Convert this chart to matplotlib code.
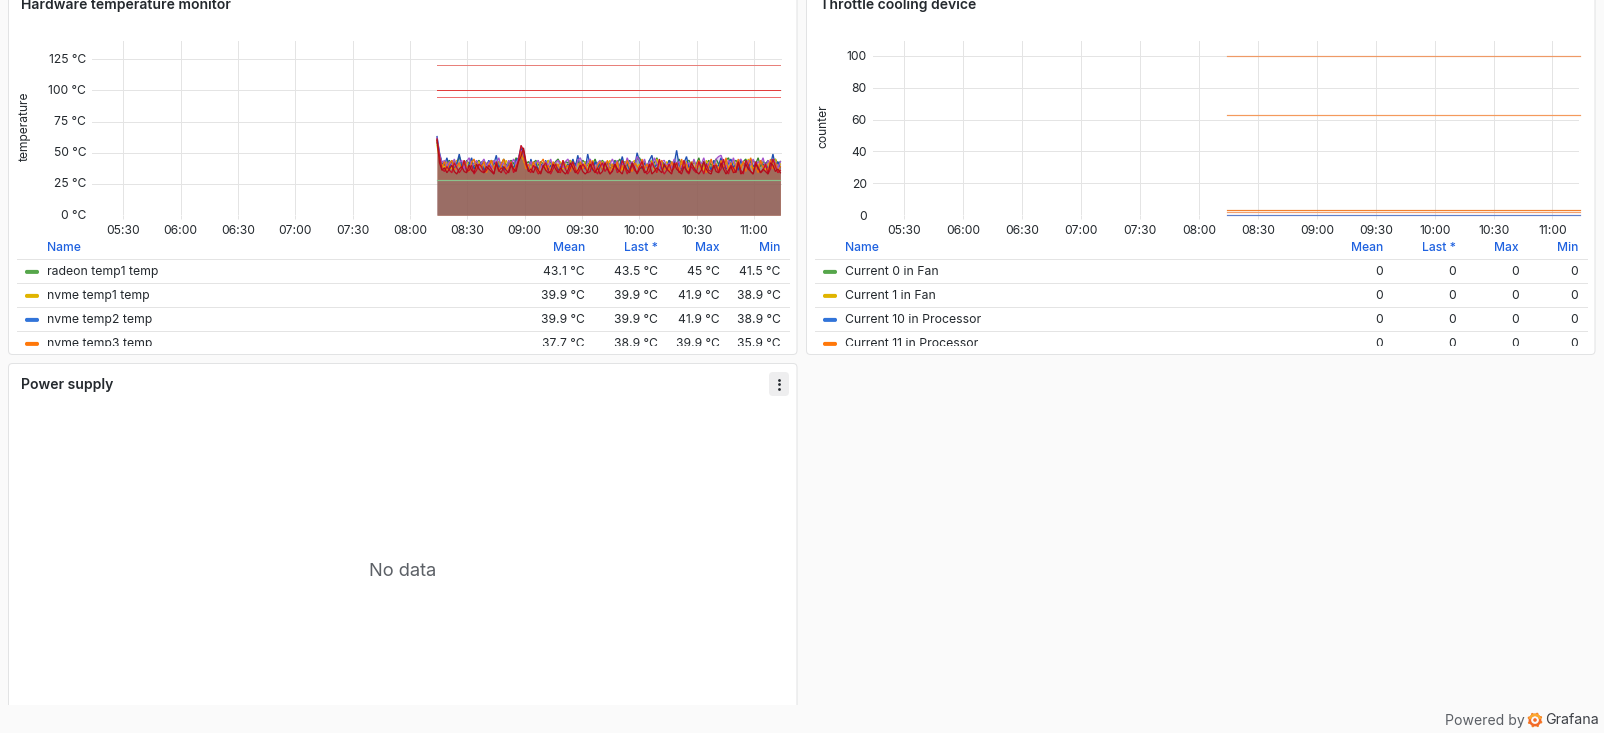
import numpy as np
import matplotlib
matplotlib.use("Agg")
import matplotlib.pyplot as plt
from matplotlib.patches import FancyBboxPatch, Rectangle, Circle, Wedge
from matplotlib.transforms import ScaledTranslation

plt.rcParams['font.family'] = ['Inter', 'DejaVu Sans']

W, H = 1604, 733

# time axis, minutes since midnight
t_start, t_end = 494.2, 673.8
tick_minutes = [330, 360, 390, 420, 450, 480, 510, 540, 570, 600, 630, 660]
tick_labels = ["05:30", "06:00", "06:30", "07:00", "07:30", "08:00",
               "08:30", "09:00", "09:30", "10:00", "10:30", "11:00"]

temp_ticks = [0, 25, 50, 75, 100, 125]
temp_labels = ["0 °C", "25 °C", "50 °C", "75 °C", "100 °C", "125 °C"]
counter_ticks = [0, 20, 40, 60, 80, 100]

# sensor readings in °C
temp_blue = [63, 50, 42, 40, 46, 38, 44, 37, 41, 49, 39, 43, 36, 41, 46, 37, 40, 38, 43, 36,
             40, 44, 38, 41, 48, 37, 42, 36, 39, 40, 43, 37, 44, 46, 54, 47, 39, 36, 45, 38,
             42, 36, 41, 39, 44, 36, 40, 38, 41, 36, 39, 43, 37, 41, 36, 45, 39, 48, 38, 41,
             37, 49, 40, 36, 43, 38, 41, 36, 39, 42, 37, 40, 43, 36, 40, 47, 38, 41, 36, 42,
             39, 50, 43, 37, 42, 38, 44, 48, 38, 41, 36, 43, 39, 37, 44, 38, 41, 52, 40, 36,
             42, 47, 38, 41, 36, 40, 43, 37, 42, 39, 41, 36, 44, 38, 40, 46, 39, 37, 42, 45,
             38, 41, 36, 44, 40, 42, 37, 45, 39, 41, 36, 43, 40, 42, 37, 40, 49, 39, 43, 38]
temp_purple = [62, 49, 42, 44, 39, 43, 40, 45, 38, 42, 44, 37, 43, 46, 39, 41, 44, 38, 42, 45,
               39, 43, 37, 44, 41, 46, 39, 42, 38, 44, 41, 45, 40, 46, 52, 50, 42, 39, 43, 38,
               42, 44, 38, 41, 43, 39, 45, 37, 42, 44, 40, 38, 43, 45, 39, 42, 37, 44, 46, 41,
               38, 43, 45, 40, 37, 42, 44, 39, 43, 38, 41, 45, 40, 44, 37, 42, 39, 46, 41, 43,
               38, 47, 44, 40, 45, 38, 43, 39, 46, 41, 37, 43, 44, 39, 42, 38, 45, 41, 43, 38,
               44, 40, 42, 37, 45, 39, 43, 41, 46, 38, 42, 44, 39, 45, 47, 48, 42, 38, 44, 40,
               46, 39, 43, 45, 41, 37, 44, 40, 45, 39, 43, 41, 46, 38, 44, 40, 45, 42, 38, 43]
temp_green = [58, 47, 43, 41, 42, 44, 40, 43, 41, 47, 42, 40, 44, 41, 43, 39, 42, 44, 40, 43,
              41, 39, 44, 42, 40, 43, 41, 45, 40, 42, 44, 41, 46, 43, 50, 46, 41, 43, 40, 42,
              44, 40, 43, 41, 39, 44, 42, 40, 43, 45, 41, 39, 43, 42, 44, 40, 41, 43, 39, 44,
              42, 40, 43, 41, 45, 39, 42, 44, 40, 43, 41, 39, 44, 42, 45, 40, 43, 41, 44, 39,
              42, 45, 46, 41, 43, 39, 44, 41, 42, 46, 40, 43, 41, 39, 44, 42, 43, 40, 45, 41,
              39, 43, 44, 40, 42, 41, 46, 39, 43, 41, 44, 40, 42, 45, 41, 43, 39, 44, 46, 40,
              42, 44, 41, 39, 43, 45, 40, 42, 44, 41, 46, 39, 43, 41, 44, 40, 42, 45, 41, 43]
temp_yellow = [56, 45, 41, 38, 43, 40, 37, 42, 44, 39, 41, 38, 43, 40, 44, 37, 41, 43, 39, 36,
               42, 40, 44, 38, 41, 43, 37, 40, 44, 39, 42, 38, 41, 44, 48, 44, 39, 36, 42, 40,
               37, 43, 39, 41, 38, 44, 40, 36, 42, 39, 43, 37, 41, 38, 44, 40, 36, 42, 39, 38,
               43, 41, 37, 44, 39, 36, 41, 43, 38, 40, 44, 37, 42, 39, 41, 36, 43, 40, 38, 42,
               44, 39, 41, 37, 43, 38, 40, 44, 36, 45, 39, 41, 37, 43, 40, 38, 44, 39, 36, 42,
               40, 43, 37, 41, 44, 38, 39, 42, 36, 44, 40, 38, 43, 41, 37, 44, 39, 42, 38, 40,
               44, 37, 41, 39, 43, 38, 45, 40, 37, 42, 39, 44, 41, 36, 43, 38, 42, 45, 39, 41]
temp_orange = [60, 46, 38, 43, 36, 41, 44, 36, 39, 42, 37, 44, 39, 35, 42, 45, 36, 41, 38, 43,
               34, 40, 44, 37, 42, 35, 41, 45, 36, 39, 43, 35, 40, 42, 51, 45, 37, 41, 35, 43,
               38, 34, 42, 45, 36, 40, 35, 43, 38, 41, 34, 44, 37, 40, 35, 42, 38, 34, 43, 37,
               41, 35, 44, 38, 34, 40, 43, 36, 39, 44, 35, 41, 37, 43, 34, 40, 36, 44, 38, 35,
               42, 39, 36, 45, 37, 41, 35, 43, 38, 34, 41, 44, 36, 40, 35, 43, 37, 42, 34, 45,
               38, 41, 35, 43, 37, 40, 44, 36, 42, 34, 39, 45, 37, 41, 35, 44, 38, 46, 36, 42,
               34, 40, 45, 37, 43, 35, 41, 46, 36, 39, 34, 44, 38, 41, 35, 45, 37, 42, 34, 39]
temp_red = [60, 47, 37, 35, 39, 36, 34, 42, 38, 34, 37, 44, 35, 36, 40, 33, 36, 41, 39, 34,
            36, 40, 37, 33, 43, 35, 38, 36, 33, 36, 42, 34, 38, 44, 56, 52, 41, 36, 34, 40,
            37, 33, 35, 39, 42, 36, 33, 37, 41, 35, 34, 44, 37, 33, 38, 43, 36, 33, 37, 41,
            38, 34, 35, 43, 36, 33, 39, 42, 35, 38, 33, 36, 41, 34, 36, 44, 39, 33, 37, 40,
            36, 34, 39, 43, 36, 33, 35, 42, 38, 34, 45, 37, 33, 36, 41, 35, 38, 42, 34, 36,
            44, 35, 33, 39, 36, 34, 43, 38, 33, 41, 36, 35, 39, 40, 34, 37, 45, 36, 33, 40,
            38, 34, 42, 36, 33, 44, 40, 35, 33, 43, 38, 34, 36, 41, 33, 37, 45, 39, 34, 36]
temp_dark = [61, 42, 36, 38, 34, 37, 40, 35, 33, 37, 39, 35, 34, 40, 36, 34, 41, 37, 35, 34,
             39, 37, 35, 33, 41, 36, 34, 39, 36, 34, 40, 37, 35, 43, 47, 54, 43, 35, 37, 34,
             39, 36, 33, 40, 36, 34, 35, 41, 37, 34, 38, 35, 33, 36, 42, 38, 34, 36, 40, 35,
             33, 35, 41, 37, 34, 38, 33, 35, 42, 37, 33, 35, 41, 37, 35, 33, 40, 36, 34, 42,
             38, 33, 37, 39, 34, 35, 41, 33, 35, 38, 36, 34, 41, 37, 35, 33, 42, 37, 35, 33,
             39, 36, 34, 42, 38, 35, 33, 36, 43, 37, 34, 33, 40, 35, 34, 42, 37, 33, 36, 39,
             34, 35, 43, 33, 35, 41, 37, 35, 33, 41, 38, 34, 37, 35, 33, 42, 40, 35, 37, 34]
temp_radeon_floor = [28.2, 28.2]
temp_limits = [120, 100, 95]

# cooling device levels
counter_levels = [100, 63, 3, 1.6, 0]

panel_names_left = ["radeon temp1 temp", "nvme temp1 temp", "nvme temp2 temp", "nvme temp3 temp"]
panel_names_right = ["Current 0 in Fan", "Current 1 in Fan", "Current 10 in Processor", "Current 11 in Processor"]
swatch_colors = ["#56A64B", "#E0B400", "#3274D9", "#FF780A"]
mean_vals = ["43.1 °C", "39.9 °C", "39.9 °C", "37.7 °C"]
last_vals = ["43.5 °C", "39.9 °C", "39.9 °C", "38.9 °C"]
max_vals = ["45 °C", "41.9 °C", "41.9 °C", "39.9 °C"]
min_vals = ["41.5 °C", "38.9 °C", "38.9 °C", "35.9 °C"]
zero_vals = ["0", "0", "0", "0"]
stat_headers = ["Mean", "Last *", "Max", "Min"]

TEXT = "#24292e"
BLUE = "#1f62e0"
GRID = "#e4e4e4"
BORDER = "#e2e3e4"
PAGE = "#fafafa"
LW = 0.72


def px_axes(fig, x0, y0, x1, y1, **kw):
    # axes placed by pixel edges, y measured from the top
    return fig.add_axes([x0 / W, 1 - y1 / H, (x1 - x0) / W, (y1 - y0) / H], **kw)


def style_time_axes(ax, xlim, ymax, yticks, ylabels, lift_px=0):
    ax.set_xlim(*xlim)
    ax.set_ylim(0, ymax)
    ax.set_xticks(tick_minutes, tick_labels)
    ax.set_yticks(yticks, ylabels)
    ax.patch.set_alpha(0)
    for s in ax.spines.values():
        s.set_visible(False)
    ax.grid(True, color=GRID, lw=LW)
    ax.set_axisbelow(True)
    ax.tick_params(axis='x', length=3, width=LW, color=GRID, labelsize=8.7, labelcolor=TEXT, pad=4.2)
    ax.tick_params(axis='y', length=0, labelsize=8.7, labelcolor=TEXT, pad=4.2)
    lift = ScaledTranslation(0, lift_px / 100, fig.dpi_scale_trans)
    for lab in ax.get_yticklabels():
        lab.set_transform(lab.get_transform() + lift)


fig = plt.figure(figsize=(W / 100, H / 100), dpi=100, facecolor=PAGE)
bg = fig.add_axes([0, 0, 1, 1])
bg.set_xlim(0, W)
bg.set_ylim(H, 0)
bg.axis('off')


def panel(x0, y0, x1, y1):
    bg.add_patch(FancyBboxPatch((x0, y0), x1 - x0, y1 - y0, boxstyle="round,pad=0,rounding_size=4",
                                fc="white", ec=BORDER, lw=LW))


panel(8.5, -20, 797, 354.5)
panel(806.5, -20, 1595, 354.5)
panel(8.5, 363.5, 797, 740)
# footer strip covers the lower panel
bg.add_patch(Rectangle((0, 705), W, 28, fc=PAGE, ec="none", zorder=3))

bg.text(21, 5.2, "Hardware temperature monitor", fontsize=10.05, fontweight=600, color=TEXT, va='center')
bg.text(819.5, 5.2, "Throttle cooling device", fontsize=10.05, fontweight=600, color=TEXT, va='center')
bg.text(21, 385.2, "Power supply", fontsize=10.05, fontweight=600, color=TEXT, va='center')
bg.text(24.5, 126, "temperature", fontsize=8.7, color=TEXT, rotation=90, ha='center', va='center')
bg.text(823, 126.5, "counter", fontsize=8.7, color=TEXT, rotation=90, ha='center', va='center')
bg.text(403, 571.5, "No data", fontsize=13.2, color="#5c6066", ha='center', va='center')

# panel menu button
bg.add_patch(FancyBboxPatch((769, 372), 20, 24, boxstyle="round,pad=0,rounding_size=4", fc="#eeeeef", ec="none"))
bg.plot([779, 779, 779], [379.5, 384, 388.5], 'o', ms=2.0, color=TEXT, mec='none')

# footer
bg.text(1445, 720.5, "Powered by", fontsize=10.1, color="#5c6066", va='center', zorder=4)
bg.text(1545, 720.5, "Grafana", fontsize=10.3, color="#3d4046", va='center', zorder=4)
logo_x, logo_y = 1535, 720
for ang in range(0, 360, 45):
    a = np.radians(ang + 20)
    bg.add_patch(Circle((logo_x + 6.4 * np.cos(a), logo_y + 6.4 * np.sin(a)), 1.3,
                        fc="#f6842a", ec="none", zorder=4))
bg.add_patch(Wedge((logo_x, logo_y), 6.4, 0, 360, width=2.5, fc="#f26a2a", ec="none", zorder=4))
bg.add_patch(Wedge((logo_x, logo_y), 6.4, 190, 350, width=2.5, fc="#fba92f", ec="none", zorder=4))
bg.add_patch(Circle((logo_x, logo_y), 1.8, fc="#f26a2a", ec="none", zorder=4))


def legend_table(x_line0, x_line1, x_swatch, x_name, stat_x, names, stats):
    clip = Rectangle((x_line0, 230), x_line1 - x_line0, 115.5, transform=bg.transData)
    bg.text(x_name, 248.3, "Name", fontsize=8.7, fontweight=500, color=BLUE, va='center')
    for xr, head in zip(stat_x, stat_headers):
        bg.text(xr, 248.3, head, fontsize=8.7, fontweight=500, color=BLUE, va='center', ha='right')
    for yl in [259, 283, 307, 331]:
        bg.plot([x_line0, x_line1], [yl, yl], color=GRID, lw=LW)
    for i, name in enumerate(names):
        yc = 271.9 + 24 * i
        swatch = FancyBboxPatch((x_swatch, yc - 2), 14, 4, boxstyle="round,pad=0,rounding_size=1.8",
                                fc=swatch_colors[i], ec="none")
        bg.add_patch(swatch)
        t = bg.text(x_name, yc, name, fontsize=8.8, color=TEXT, va='center', clip_on=True)
        t.set_clip_path(clip)
        for xr, col in zip(stat_x, stats):
            t = bg.text(xr, yc, col[i], fontsize=8.7, color=TEXT, va='center', ha='right', clip_on=True)
            t.set_clip_path(clip)


legend_table(17, 789, 25, 47, [585, 657.5, 720, 780.5], panel_names_left,
             [mean_vals, last_vals, max_vals, min_vals])
legend_table(815, 1587, 823, 845, [1383, 1456, 1519, 1578], panel_names_right,
             [zero_vals, zero_vals, zero_vals, zero_vals])

# temperature panel
ax1 = px_axes(fig, 92, 40.7, 781.5, 215.2)
style_time_axes(ax1, (313.7, 674.4), 139.8, temp_ticks, temp_labels, lift_px=1)

fills = [(temp_yellow, "#E0B400"), (temp_blue, "#1F60C4"), (temp_orange, "#FF780A"),
         (temp_purple, "#A352CC"), (temp_red, "#E02F44"), (temp_dark, "#B5101F"),
         (temp_green, "#37872D")]
lines = [(temp_green, "#37872D"), (temp_yellow, "#E0B400"), (temp_blue, "#1F4FB0"),
         (temp_purple, "#A352CC"), (temp_orange, "#F2700A"), (temp_red, "#C4122A"),
         (temp_dark, "#B00D1C")]
for vals, col in fills:
    xs = np.linspace(t_start, t_end, len(vals))
    ax1.fill_between(xs, 0, vals, color=col, alpha=0.25, lw=0)
# radeon floor band sits over the other fills
xs_floor = [t_start, t_end]
ax1.fill_between(xs_floor, 0, temp_radeon_floor, color="#717aa9", alpha=0.12, lw=0)
for vals, col in lines:
    xs = np.linspace(t_start, t_end, len(vals))
    ax1.plot(xs, vals, color=col, lw=0.95, solid_joinstyle='miter')
ax1.plot(xs_floor, temp_radeon_floor, color="#8cc08c", lw=LW * 1.2)
for val, col in zip(temp_limits, ["#e8807a", "#e23d3d", "#ee7070"]):
    ax1.plot(xs_floor, [val, val], color=col, lw=LW)

# cooling device panel
ax2 = px_axes(fig, 872.7, 40.7, 1579, 215)
style_time_axes(ax2, (313.9, 673.5), 109.6, counter_ticks, [str(v) for v in counter_ticks])
xs_cool = [t_start, t_end]
for val, col in zip(counter_levels, ["#ee9a66", "#f49a5c", "#f08030", "#f2a070", "#5f7fcc"]):
    ln, = ax2.plot(xs_cool, [val, val], color=col, lw=LW * 1.2)
    ln.set_clip_on(False)

fig.savefig("out.png", dpi=100, facecolor=PAGE)
